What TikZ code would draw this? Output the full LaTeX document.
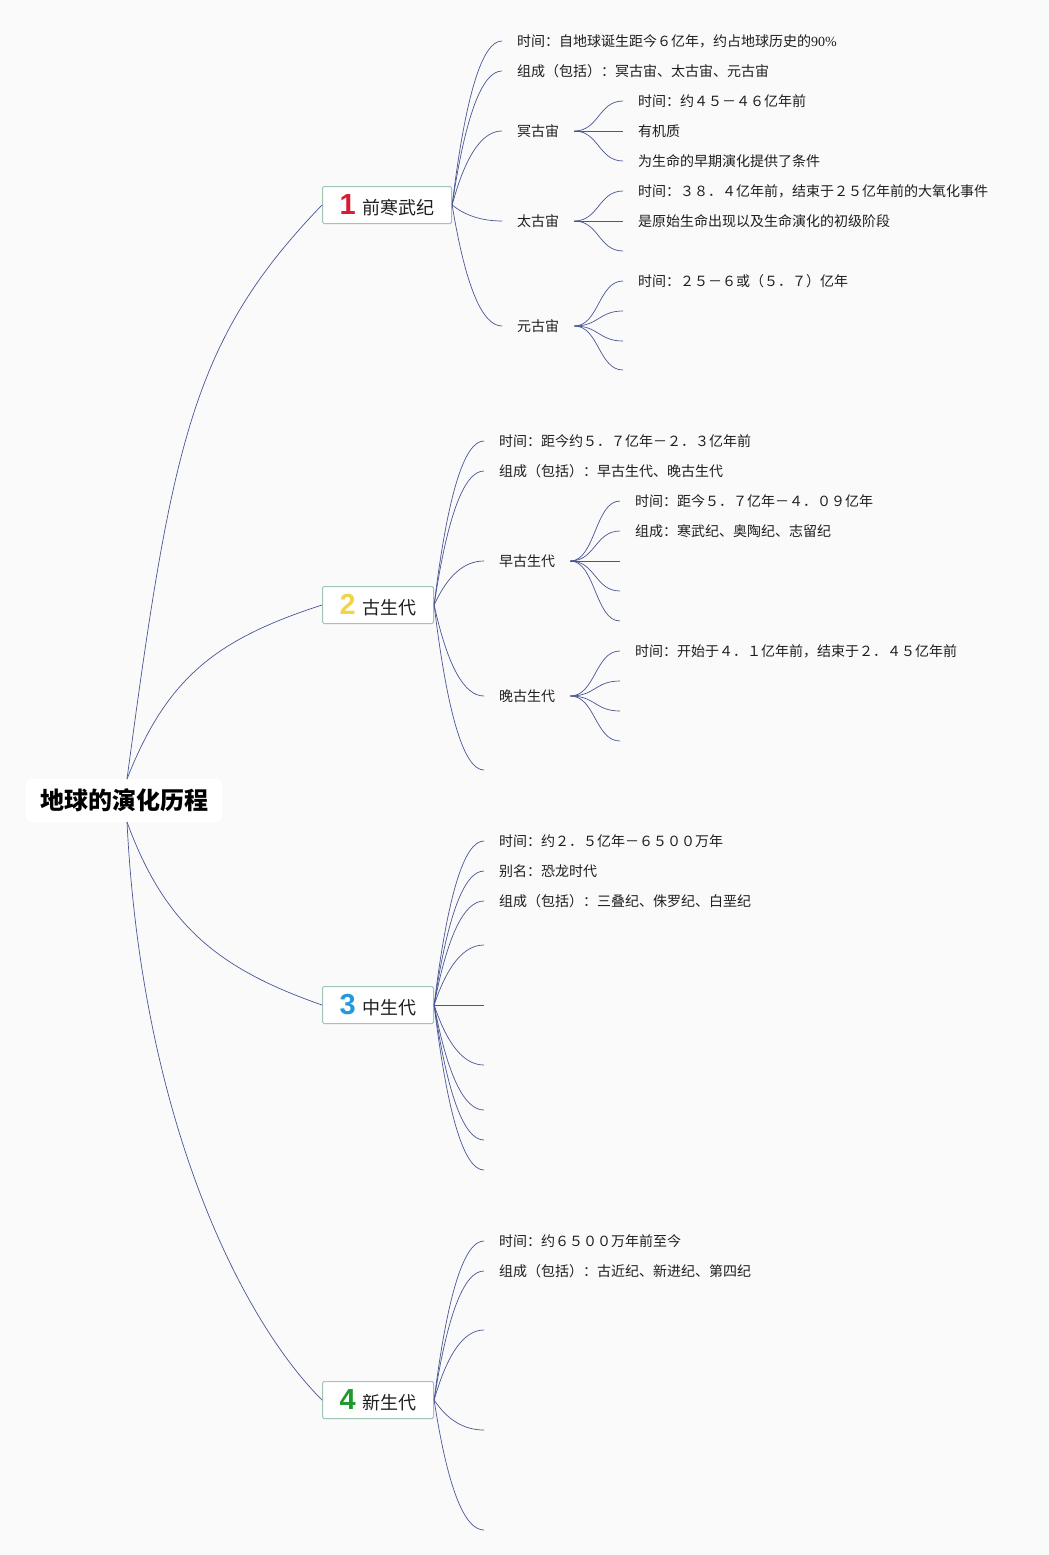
\documentclass[tikz,border=0pt]{standalone}
\usepackage{fontspec}
\setmainfont{Noto Sans CJK SC}
\newfontfamily\serifnum{Liberation Serif}
\newfontfamily\numfont{Liberation Sans}
\usetikzlibrary{calc}
\definecolor{bg}{RGB}{250,250,250}
\definecolor{lnk}{RGB}{72,86,150}
\definecolor{bord}{RGB}{160,196,182}
\definecolor{txt}{RGB}{30,30,30}
\definecolor{nred}{RGB}{216,28,52}
\definecolor{nyel}{RGB}{243,211,74}
\definecolor{nblu}{RGB}{38,152,220}
\definecolor{ngrn}{RGB}{30,155,45}
\newcommand\numlab[2]{{\numfont\bfseries\fontsize{29}{29}\selectfont\color{#1}#2}\hspace{7pt}}
\tikzset{
  link/.style={draw=lnk, line width=0.7pt},
  bb/.style={to path={let \p1=(\tikztostart),\p2=(\tikztotarget) in
     .. controls ({\x1+0.267*(\x2-\x1)},{\y1+0.667*(\y2-\y1)}) and ({\x2-0.4*(\x2-\x1)},\y2) .. (\tikztotarget)}},
  sb/.style={to path={let \p1=(\tikztostart),\p2=(\tikztotarget) in
     .. controls ({\x1+0.5*(\x2-\x1)},\y1) and ({\x2-0.5*(\x2-\x1)},\y2) .. (\tikztotarget)}},
  rootbox/.style={fill=white, rounded corners=5pt, minimum width=196pt, minimum height=43pt,
     inner sep=0pt, font=\bfseries\fontsize{24}{27}\selectfont, text=black},
  box/.style={draw=bord, fill=white, line width=1pt, rounded corners=1.5pt, minimum height=37pt,
     inner xsep=17pt, inner ysep=0pt, font=\fontsize{18}{20}\selectfont, text=txt, anchor=west},
  lt/.style={inner xsep=15pt, inner ysep=2pt, font=\fontsize{14}{16}\selectfont, text=txt, anchor=west},
}
\begin{document}
\begin{tikzpicture}[x=1pt,y=-1pt]
\fill[bg] (0,0) rectangle (1049,1555);
\useasboundingbox (0,0) rectangle (1049,1555);

% root
\node[rootbox] (root) at (124,800.5) {地球的演化历程};
\coordinate (rtop) at (127,779);
\coordinate (rbot) at (127,822);

% level 1 boxes
\node[box] (b1) at (322,205) {\numlab{nred}{1}前寒武纪};
\node[box] (b2) at (322,605) {\numlab{nyel}{2}古生代};
\node[box] (b3) at (322,1005) {\numlab{nblu}{3}中生代};
\node[box] (b4) at (322,1400) {\numlab{ngrn}{4}新生代};

\draw[link] (rtop) .. controls +(45,-336) and +(-130,135) .. (b1.west);
\draw[link] (rtop) .. controls +(40,-102) and +(-105,34) .. (b2.west);
\draw[link] (rbot) .. controls +(38,104) and +(-103,-36) .. (b3.west);
\draw[link] (rbot) .. controls +(15,300) and +(-80,-80) .. (b4.west);

% ---- box 1 children
\node[lt] (a1) at (502,41) {时间：自地球诞生距今６亿年，约占地球历史的{\serifnum 90\%}};
\node[lt] (a2) at (502,71) {组成（包括）：冥古宙、太古宙、元古宙};
\node[lt] (a3) at (502,131) {冥古宙};
\node[lt] (a4) at (502,221) {太古宙};
\node[lt] (a5) at (502,326) {元古宙};
\foreach \nm in {a1,a2,a3,a4,a5} \draw[link] (b1.east) to[bb] (\nm.west);

\node[lt] (a31) at (623,101) {时间：约４５－４６亿年前};
\node[lt] (a32) at (623,131) {有机质};
\node[lt] (a33) at (623,161) {为生命的早期演化提供了条件};
\foreach \nm in {a31,a32,a33} \draw[link] (a3.east) to[sb] (\nm.west);

\node[lt] (a41) at (623,191) {时间：３８．４亿年前，结束于２５亿年前的大氧化事件};
\node[lt] (a42) at (623,221) {是原始生命出现以及生命演化的初级阶段};
\coordinate (a43) at (623,251);
\foreach \nm in {a41.west,a42.west,a43} \draw[link] (a4.east) to[sb] (\nm);

\node[lt] (a51) at (623,281) {时间：２５－６或（５．７）亿年};
\coordinate (a52) at (623,311);
\coordinate (a53) at (623,341);
\coordinate (a54) at (623,370);
\foreach \nm in {a51.west,a52,a53,a54} \draw[link] (a5.east) to[sb] (\nm);

% ---- box 2 children
\node[lt] (c1) at (484,441) {时间：距今约５．７亿年－２．３亿年前};
\node[lt] (c2) at (484,471) {组成（包括）：早古生代、晚古生代};
\node[lt] (c3) at (484,561) {早古生代};
\node[lt] (c4) at (484,696) {晚古生代};
\coordinate (c5) at (484,770);
\foreach \nm in {c1.west,c2.west,c3.west,c4.west,c5} \draw[link] (b2.east) to[bb] (\nm);

\node[lt] (c31) at (620,501) {时间：距今５．７亿年－４．０９亿年};
\node[lt] (c32) at (620,531) {组成：寒武纪、奥陶纪、志留纪};
\coordinate (c33) at (620,561);
\coordinate (c34) at (620,591);
\coordinate (c35) at (620,621);
\foreach \nm in {c31.west,c32.west,c33,c34,c35} \draw[link] (c3.east) to[sb] (\nm);

\node[lt] (c41) at (620,651) {时间：开始于４．１亿年前，结束于２．４５亿年前};
\coordinate (c42) at (620,681);
\coordinate (c43) at (620,711);
\coordinate (c44) at (620,741);
\foreach \nm in {c41.west,c42,c43,c44} \draw[link] (c4.east) to[sb] (\nm);

% ---- box 3 children
\node[lt] (d1) at (484,841) {时间：约２．５亿年－６５００万年};
\node[lt] (d2) at (484,871) {别名：恐龙时代};
\node[lt] (d3) at (484,901) {组成（包括）：三叠纪、侏罗纪、白垩纪};
\coordinate (d4) at (484,945);
\coordinate (d5) at (484,1005);
\coordinate (d6) at (484,1065);
\coordinate (d7) at (484,1110);
\coordinate (d8) at (484,1140);
\coordinate (d9) at (484,1170);
\foreach \nm in {d1.west,d2.west,d3.west,d4,d5,d6,d7,d8,d9} \draw[link] (b3.east) to[bb] (\nm);

% ---- box 4 children
\node[lt] (f1) at (484,1241) {时间：约６５００万年前至今};
\node[lt] (f2) at (484,1271) {组成（包括）：古近纪、新进纪、第四纪};
\coordinate (f3) at (484,1330);
\coordinate (f4) at (484,1430);
\coordinate (f5) at (484,1530);
\foreach \nm in {f1.west,f2.west,f3,f4,f5} \draw[link] (b4.east) to[bb] (\nm);
\end{tikzpicture}
\end{document}
